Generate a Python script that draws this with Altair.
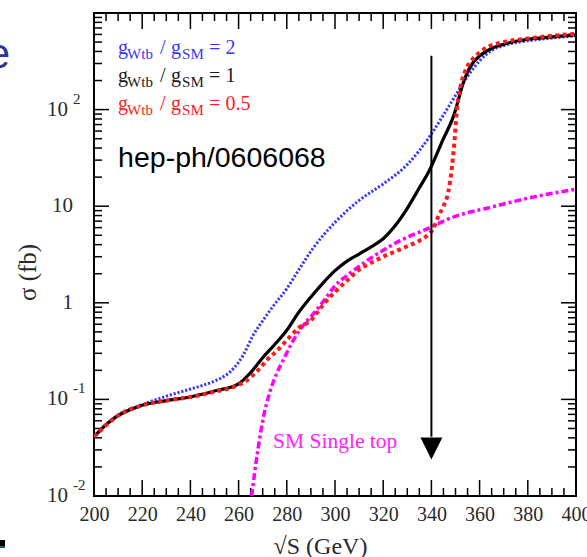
import altair as alt
import pandas as pd

# ---------------- data ----------------
s_g2 = [200, 210, 220, 230, 240, 250, 255, 258, 262, 266, 270, 274, 280, 285, 291, 300, 305, 310, 320, 330, 340, 345, 350, 355, 360, 365, 370, 380, 390, 400]
sig_g2 = [0.041, 0.069, 0.088, 0.108, 0.128, 0.155, 0.18, 0.21, 0.29, 0.46, 0.65, 0.9, 1.4, 2.2, 3.7, 6.8, 9.0, 11.5, 17.0, 27, 56, 88, 140, 220, 320, 410, 460, 515, 550, 580]

s_g1 = [200, 205, 210, 215, 220, 230, 240, 250, 260, 265, 270, 275, 280, 285, 290, 295, 300, 305, 310, 315, 320, 325, 330, 335, 339, 345, 349, 354, 357, 360, 365, 370, 380, 390, 400]
sig_g1 = [0.041, 0.055, 0.068, 0.078, 0.087, 0.097, 0.106, 0.122, 0.145, 0.19, 0.27, 0.37, 0.52, 0.8, 1.15, 1.6, 2.15, 2.7, 3.2, 3.8, 4.6, 6.3, 9.5, 15.5, 23, 50, 83, 215, 300, 360, 430, 475, 535, 565, 595]

s_g05 = [200, 210, 220, 230, 240, 250, 258, 263, 268, 272, 276, 280, 285, 290, 295, 300, 305, 310, 315, 320, 325, 330, 335, 338, 341, 343, 345, 347, 348.5, 349.5, 350.5, 352, 354, 357, 360, 363, 370, 380, 390, 400]
sig_g05 = [0.041, 0.068, 0.087, 0.097, 0.106, 0.12, 0.135, 0.155, 0.2, 0.26, 0.32, 0.41, 0.55, 0.66, 0.95, 1.3, 1.7, 2.2, 2.6, 3.0, 3.4, 3.85, 4.4, 4.9, 6.0, 8.0, 10, 14, 25, 45, 95, 170, 250, 330, 390, 440, 500, 545, 580, 610]

s_sm = [265.4, 268, 270, 273, 276, 279, 282, 286, 291, 296, 300, 306, 313, 320, 327, 338, 349, 365, 382, 400]
sig_sm = [0.01, 0.03, 0.06, 0.12, 0.19, 0.27, 0.38, 0.55, 0.77, 1.1, 1.5, 2.0, 2.7, 3.5, 4.4, 5.8, 7.7, 9.8, 12.4, 15.0]

x_major = [200, 220, 240, 260, 280, 300, 320, 340, 360, 380, 400]
x_minor = [v for v in range(205, 400, 5) if v % 20 != 0]
y_major = [0.01, 0.1, 1, 10, 100, 1000]
y_minor = [m * 10.0 ** e for e in range(-2, 3) for m in range(2, 10)]

# y tick labels: mantissa text and exponent text
ylab_plain_v = [1, 10]
ylab_plain_t = ["1", "10"]
ylab_exp_v = [0.01, 0.1, 100]
ylab_exp_t = ["-2", "-1", "2"]

arrow_s = [340]
arrow_top = [360]
arrow_base = [0.041]
arrow_head = [0.031]

legend_s = 210
legend_y = [435, 223, 115]
legend_val = ["2", "1", "0.5"]
legend_col = ["#3535ff", "#1a1a1a", "#ff2020"]

hep_pos = (210, 31.8)
sm_pos = (274.3, 0.0364)

# ---------------- layout ----------------
W, H = 482, 483
xs = alt.Scale(domain=[200, 400], nice=False, zero=False)
ys = alt.Scale(type="log", domain=[0.01, 1000], nice=False)
SERIF = "Liberation Serif"
LABC = "#2a2a2a"

XAXIS = alt.Axis(
    values=x_major, ticks=False, domain=False, grid=False, labelFont=SERIF, labelFontSize=20,
    labelColor=LABC, labelPadding=8, titleFont=SERIF, titleFontSize=24,
    titleFontWeight="normal", titleColor=LABC, titleX=226, titleY=50, titleBaseline="middle",
    titleAlign="center", labelFlush=False)
YAXIS = alt.Axis(
    values=y_major, ticks=False, domain=False, grid=False, labels=False, titleFont=SERIF,
    titleFontSize=25, titleFontWeight="normal", titleColor=LABC, titleX=-67, titleY=259,
    titleAngle=270, titleAlign="center", titleBaseline="middle")
XT = "\u221aS (GeV)"
YT = "\u03c3 (fb)"


def X(field):
    return alt.X(field, scale=xs, axis=XAXIS, title=XT)


def Y(field):
    return alt.Y(field, scale=ys, axis=YAXIS, title=YT)


def pts(sv, yv):
    return pd.DataFrame({"s": sv, "sigma": yv})


def enc_xy():
    return dict(x=X("s:Q"), y=Y("sigma:Q"))


layers = []

# tick marks pointing inward on all four sides
for vals, ln in ((x_major, 16), (x_minor, 8)):
    d = pd.DataFrame({"t": vals})
    layers.append(alt.Chart(d).mark_rule(color="black", strokeWidth=1.5).encode(
        x=X("t:Q"), y=alt.value(H), y2=alt.value(H - ln)))
    layers.append(alt.Chart(d).mark_rule(color="black", strokeWidth=1.5).encode(
        x=X("t:Q"), y=alt.value(0), y2=alt.value(ln)))
for vals, ln in ((y_major, 15), (y_minor, 8)):
    d = pd.DataFrame({"t": vals})
    layers.append(alt.Chart(d).mark_rule(color="black", strokeWidth=1.5).encode(
        y=Y("t:Q"), x=alt.value(0), x2=alt.value(ln)))
    layers.append(alt.Chart(d).mark_rule(color="black", strokeWidth=1.5).encode(
        y=Y("t:Q"), x=alt.value(W), x2=alt.value(W - ln)))

# y tick labels
dp = pd.DataFrame({"v": ylab_plain_v, "t": ylab_plain_t})
layers.append(alt.Chart(dp).mark_text(align="right", baseline="middle", font=SERIF, fontSize=21,
                                      color=LABC).encode(y=Y("v:Q"), x=alt.value(-21), text="t:N"))
de = pd.DataFrame({"v": ylab_exp_v, "t": ylab_exp_t, "b": ["10"] * len(ylab_exp_v)})
layers.append(alt.Chart(de).mark_text(align="right", baseline="middle", font=SERIF, fontSize=21,
                                      color=LABC).encode(y=Y("v:Q"), x=alt.value(-26), text="b:N"))
layers.append(alt.Chart(de).mark_text(align="left", baseline="middle", font=SERIF, fontSize=15, dy=-11,
                                      color=LABC).encode(y=Y("v:Q"), x=alt.value(-21), text="t:N"))

# curves
layers.append(alt.Chart(pts(s_g2, sig_g2)).mark_line(
    color="#3838ff", strokeWidth=3, strokeDash=[2.2, 1.8], interpolate="monotone", clip=True).encode(**enc_xy()))
layers.append(alt.Chart(pts(s_g1, sig_g1)).mark_line(
    color="black", strokeWidth=3.2, interpolate="monotone", clip=True).encode(**enc_xy()))
layers.append(alt.Chart(pts(s_sm, sig_sm)).mark_line(
    color="#ff00ff", strokeWidth=3.5, strokeDash=[7, 3, 3, 3], interpolate="monotone", clip=True).encode(**enc_xy()))
layers.append(alt.Chart(pts(s_g05, sig_g05)).mark_line(
    color="#ff1a1a", strokeWidth=4, strokeDash=[4, 3.5], interpolate="monotone", clip=True).encode(**enc_xy()))

# arrow at 340 GeV
arr = pd.DataFrame({"s": arrow_s, "top": arrow_top, "base": arrow_base, "head": arrow_head})
layers.append(alt.Chart(arr).mark_rule(color="black", strokeWidth=2).encode(
    x=X("s:Q"), y=Y("top:Q"), y2="base:Q"))
layers.append(alt.Chart(arr).mark_point(shape="M-1,-1L1,-1L0,1Z", size=480, filled=True, color="black", opacity=1).encode(
    x=X("s:Q"), y=Y("head:Q")))

# legend text (with subscripts)
for yv, val, col in zip(legend_y, legend_val, legend_col):
    d = pd.DataFrame({"s": [legend_s], "sigma": [yv]})
    parts = [("g", 0, 0, 20), ("Wtb", 9, 6, 15), ("/", 42, 0, 20), ("g", 53, 0, 20),
             ("SM", 64, 6, 15), ("= " + val, 91, 0, 20)]
    for txt, dx, dy, fs in parts:
        layers.append(alt.Chart(d).mark_text(text=txt, align="left", baseline="middle", dx=dx, dy=dy,
                                             font=SERIF, fontSize=fs, color=col).encode(**enc_xy()))

layers.append(alt.Chart(pts([hep_pos[0]], [hep_pos[1]])).mark_text(
    text="hep-ph/0606068", align="left", baseline="middle", font="Liberation Sans", fontSize=28.5,
    color="black").encode(**enc_xy()))
layers.append(alt.Chart(pts([sm_pos[0]], [sm_pos[1]])).mark_text(
    text="SM Single top", align="left", baseline="middle", font=SERIF, fontSize=21.5,
    color="#ff22ff").encode(**enc_xy()))

# slide leftovers at the image border
one = pd.DataFrame({"a": [0]})
layers.append(alt.Chart(one).mark_text(text="e", align="right", baseline="middle", font="Liberation Sans",
                                       fontSize=42, color="#34349a").encode(x=alt.value(-84), y=alt.value(42)))
layers.append(alt.Chart(one).mark_rect(color="black").encode(
    x=alt.value(-94), x2=alt.value(-89), y=alt.value(527), y2=alt.value(533)))
layers.append(alt.Chart(one).mark_rect(color="#1f5f4f").encode(
    x=alt.value(-94), x2=alt.value(-89), y=alt.value(533), y2=alt.value(535)))

chart = alt.layer(*layers).properties(
    width=W, height=H,
    autosize=alt.AutoSizeParams(type="none"),
    padding={"left": 94, "top": 13, "right": 11, "bottom": 61},
    background="white",
).configure_view(stroke="black", strokeWidth=2)

chart.save("out.html", embed_options={"renderer": "svg", "actions": False})
